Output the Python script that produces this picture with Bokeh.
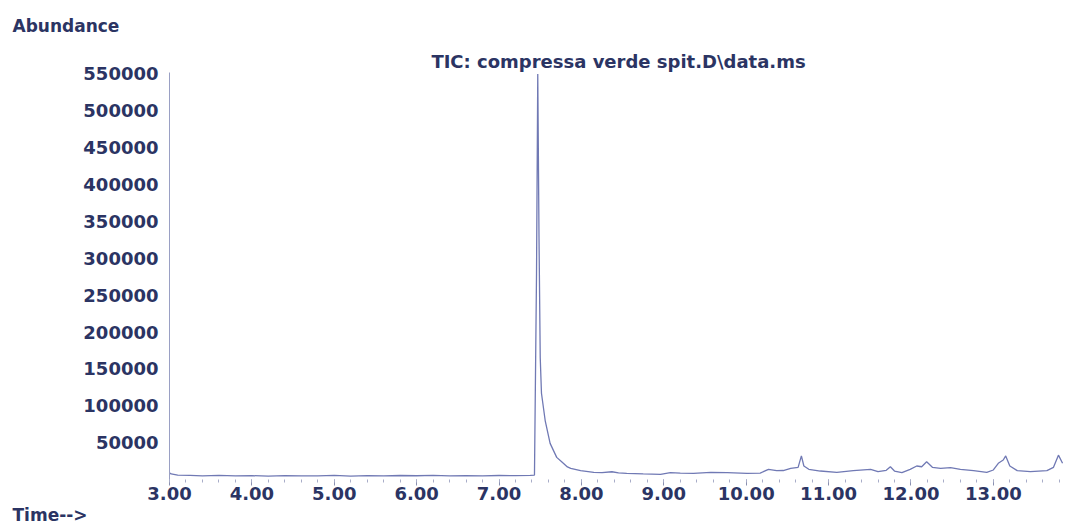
from bokeh.plotting import figure
from bokeh.models import (Range1d, SingleIntervalTicker, FixedTicker,
                          NumeralTickFormatter, Title)
from bokeh.embed import file_html
from bokeh.resources import INLINE

# ---- data ----
time_min = [3.00, 3.02, 3.10, 3.25, 3.40, 3.60, 3.80, 4.00, 4.20, 4.40,
            4.60, 4.80, 5.00, 5.20, 5.40, 5.60, 5.80, 6.00, 6.20, 6.40,
            6.60, 6.80, 7.00, 7.20, 7.38, 7.43, 7.455, 7.47, 7.485, 7.50,
            7.515, 7.56, 7.62, 7.70, 7.76, 7.83, 7.87, 7.99, 8.15, 8.25,
            8.37, 8.45, 8.55, 8.75, 8.96, 9.08, 9.20, 9.36, 9.57, 9.77,
            10.01, 10.17, 10.27, 10.37, 10.45, 10.54, 10.63, 10.67, 10.70, 10.76,
            10.90, 11.10, 11.30, 11.51, 11.60, 11.70, 11.75, 11.80, 11.89, 11.99,
            12.07, 12.13, 12.19, 12.26, 12.36, 12.48, 12.60, 12.76, 12.92, 13.00,
            13.06, 13.12, 13.15, 13.20, 13.29, 13.45, 13.65, 13.73, 13.79, 13.84]
abundance = [9000, 7500, 6000, 5500, 5000, 5600, 4800, 5200, 4600, 5300,
             4900, 5000, 5600, 4700, 5200, 5000, 5400, 5100, 5600, 4900,
             5300, 5000, 5400, 5200, 5600, 6000, 280000, 550000, 330000, 165000,
             117000, 80000, 49000, 30000, 24000, 17000, 15000, 12000, 9700, 9200,
             10500, 9000, 8400, 7500, 7000, 9200, 8600, 8400, 9700, 9200,
             8400, 8600, 13800, 12000, 12200, 15200, 16500, 32000, 18300, 13800,
             11500, 9700, 12000, 13800, 10600, 12500, 17300, 11500, 9200, 13800,
             18300, 17300, 24000, 16500, 15200, 16000, 13800, 12000, 9700, 12900,
             22000, 26400, 32000, 18300, 12000, 10600, 12000, 16500, 33000, 22000]

y_ticks = [50000, 100000, 150000, 200000, 250000, 300000,
           350000, 400000, 450000, 500000, 550000]

title_text = "TIC: compressa verde spit.D\\data.ms"
y_label_text = "Abundance"
x_label_text = "Time-->"

TEXT = "#2b3463"
TRACE = "#7079b4"
FONT = "DejaVu Sans"

p = figure(width=1067, height=524, output_backend="svg", toolbar_location=None,
           x_range=Range1d(3.0, 13.90), y_range=Range1d(0, 552000),
           min_border_left=169, min_border_right=0,
           min_border_top=72, min_border_bottom=44)
p.outline_line_color = None
p.background_fill_color = "white"
p.border_fill_color = "white"
p.xgrid.visible = False
p.ygrid.visible = False

p.line(time_min, abundance, line_color=TRACE, line_width=1.3)

# x axis
xa = p.xaxis[0]
xa.ticker = SingleIntervalTicker(interval=1, num_minor_ticks=5)
xa.formatter = NumeralTickFormatter(format="0.00")
xa.axis_line_color = None
xa.major_tick_in = 0
xa.major_tick_out = 6
xa.minor_tick_in = 0
xa.minor_tick_out = 3
xa.major_tick_line_color = "#8a90b0"
xa.minor_tick_line_color = "#a8adc8"
xa.major_label_standoff = 1
xa.major_label_text_font = FONT
xa.major_label_text_font_style = "bold"
xa.major_label_text_font_size = "18px"
xa.major_label_text_color = TEXT

# y axis
ya = p.yaxis[0]
ya.ticker = FixedTicker(ticks=y_ticks)
ya.formatter = NumeralTickFormatter(format="0")
ya.axis_line_color = "#9aa0c4"
ya.axis_line_width = 1
ya.major_tick_line_color = None
ya.minor_tick_line_color = None
ya.major_label_standoff = 5
ya.major_label_text_font = FONT
ya.major_label_text_font_style = "bold"
ya.major_label_text_font_size = "18px"
ya.major_label_text_color = TEXT

# "Abundance" at the top-left corner (outermost above panel)
p.title.text = y_label_text
p.title.align = "left"
p.title.offset = -157
p.title.standoff = 25
p.title.text_font = FONT
p.title.text_font_style = "bold"
p.title.text_font_size = "17px"
p.title.text_color = TEXT

# main chart title, just above the frame, centred
t_main = Title(text=title_text, align="center", standoff=1,
               text_font=FONT, text_font_style="bold", text_font_size="18px",
               text_color=TEXT)
p.add_layout(t_main, "above")

# "Time-->" at the bottom-left corner
t_x = Title(text=x_label_text, align="left", offset=-157, standoff=0,
            text_font=FONT, text_font_style="bold", text_font_size="17px",
            text_color=TEXT)
p.add_layout(t_x, "below")

open("out.html", "w").write(file_html(p, INLINE))
